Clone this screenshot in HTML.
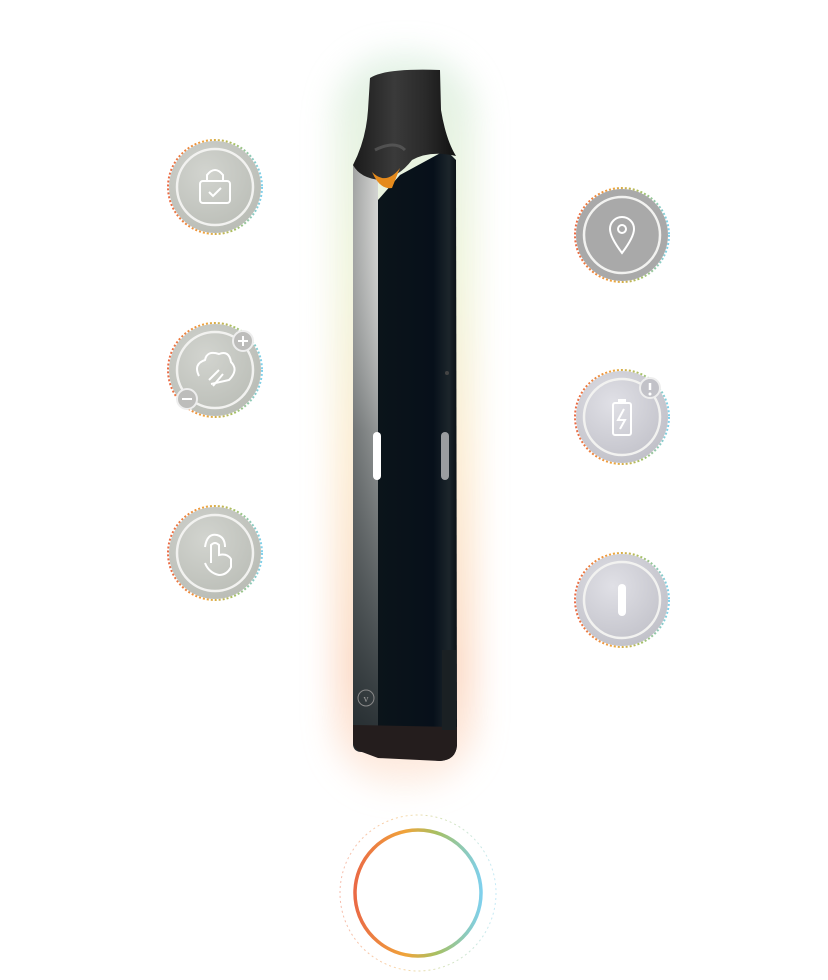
<!DOCTYPE html>
<html><head><meta charset="utf-8"><style>
html,body{margin:0;padding:0;background:#fff;width:828px;height:980px;overflow:hidden}
</style></head><body>
<svg width="828" height="980" viewBox="0 0 828 980" xmlns="http://www.w3.org/2000/svg">
<defs>
<linearGradient id="glow" x1="0" y1="0" x2="0" y2="1">
<stop offset="0" stop-color="#d6ecdc"/><stop offset="0.3" stop-color="#e9f0cc"/>
<stop offset="0.55" stop-color="#fbe4bf"/><stop offset="0.85" stop-color="#fbccb0"/><stop offset="1" stop-color="#fde9dc"/>
</linearGradient>
<filter id="blur" x="-50%" y="-20%" width="200%" height="140%"><feGaussianBlur stdDeviation="16"/></filter>
<linearGradient id="side" x1="0" y1="0" x2="1" y2="0">
<stop offset="0" stop-color="#a0a2a1"/><stop offset="1" stop-color="#d3d4d2"/>
</linearGradient>
<linearGradient id="sideV" x1="0" y1="0" x2="0" y2="1">
<stop offset="0" stop-color="#fff" stop-opacity="0"/><stop offset="0.45" stop-color="#1a2226" stop-opacity="0.35"/><stop offset="1" stop-color="#1a2226" stop-opacity="0.95"/>
</linearGradient>
<linearGradient id="front" x1="0" y1="0" x2="1" y2="0">
<stop offset="0" stop-color="#0b141a"/><stop offset="0.7" stop-color="#07101a"/><stop offset="0.9" stop-color="#1c252b"/><stop offset="1" stop-color="#0a1015"/>
</linearGradient>
<linearGradient id="cap" x1="0" y1="0" x2="1" y2="0">
<stop offset="0" stop-color="#1b1b1b"/><stop offset="0.4" stop-color="#3a3a3a"/><stop offset="0.7" stop-color="#2a2a2a"/><stop offset="1" stop-color="#111"/>
</linearGradient>
<linearGradient id="ring" x1="0" y1="0" x2="1" y2="0">
<stop offset="0" stop-color="#ea6a45"/><stop offset="0.4" stop-color="#f0a43a"/><stop offset="0.65" stop-color="#a6c063"/><stop offset="1" stop-color="#7fd0ec"/>
</linearGradient>
<radialGradient id="disc" cx="0.4" cy="0.35" r="0.8">
<stop offset="0" stop-color="#d2d4cf"/><stop offset="1" stop-color="#b6b9b2"/>
</radialGradient>
<radialGradient id="disc2" cx="0.4" cy="0.35" r="0.8">
<stop offset="0" stop-color="#e0e0e6"/><stop offset="1" stop-color="#bcbcc4"/>
</radialGradient>
<linearGradient id="dotg" x1="0" y1="0" x2="1" y2="0">
<stop offset="0" stop-color="#ea6a45"/><stop offset="0.4" stop-color="#f0a43a"/><stop offset="0.7" stop-color="#a6c063"/><stop offset="1" stop-color="#7fd0ec"/>
</linearGradient>
</defs>

<rect x="335" y="55" width="140" height="730" rx="60" fill="url(#glow)" filter="url(#blur)" opacity="0.7"/>

<path d="M353 165 L353 745 Q354 752 362 752 L378 754 L378 165 Z" fill="url(#side)"/>
<path d="M353 165 L353 745 Q354 752 362 752 L378 754 L378 165 Z" fill="url(#sideV)"/>
<path d="M378 200 L400 175 L446 150 L456 160 L457 745 Q456 760 440 761 L378 754 Z" fill="url(#front)"/>
<path d="M353 725 L457 727 L457 745 Q456 760 440 761 L378 758 L362 752 Q354 750 353 742 Z" fill="#241d1d"/>
<rect x="442" y="650" width="14" height="80" fill="#1a2023"/>
<circle cx="366" cy="698" r="8" fill="none" stroke="#888" stroke-width="1"/>
<text x="366" y="702" font-family="Liberation Serif,serif" font-size="10" fill="#999" text-anchor="middle">v</text>
<path d="M370 78 Q385 68 440 70 L441 110 Q446 140 456 156 Q430 150 412 160 Q398 178 380 180 Q360 178 353 165 Q366 140 368 110 Z" fill="url(#cap)"/>
<path d="M375 150 Q395 140 405 150" stroke="#666" stroke-width="3" fill="none" opacity="0.6"/>
<path d="M372 172 Q386 186 400 168 L392 188 Q380 190 372 172 Z" fill="#e58a1c"/>
<rect x="373" y="432" width="8" height="48" rx="4" fill="#fff"/>
<rect x="441" y="432" width="8" height="48" rx="4" fill="#9a9da0"/>
<circle cx="447" cy="373" r="2" fill="#444"/>

<g font-family="Liberation Sans,sans-serif">
<g transform="translate(215,187)">
<circle r="47" fill="none" stroke="url(#dotg)" stroke-width="2" stroke-dasharray="2 2"/>
<circle r="46" fill="url(#disc)"/><circle r="38" fill="none" stroke="#f2f2f0" stroke-width="2.5"/>
<rect x="-15" y="-6" width="30" height="22" rx="3" fill="none" stroke="#fff" stroke-width="2"/>
<path d="M-8 -6 V-12 Q0 -22 8 -12 V-6" fill="none" stroke="#fff" stroke-width="2"/>
<path d="M-6 5 L-2 9 L6 1" fill="none" stroke="#fff" stroke-width="2"/>
</g>
<g transform="translate(215,370)">
<circle r="47" fill="none" stroke="url(#dotg)" stroke-width="2" stroke-dasharray="2 2"/>
<circle r="46" fill="url(#disc)"/><circle r="38" fill="none" stroke="#f2f2f0" stroke-width="2.5"/>
<path d="M-16 6 Q-22 -6 -10 -10 Q-8 -20 4 -16 Q14 -20 16 -8 Q24 0 14 10 L-4 14" fill="none" stroke="#fff" stroke-width="2"/>
<path d="M-6 10 L4 0 M-2 16 L8 4" stroke="#fff" stroke-width="2"/>
<circle cx="28" cy="-29" r="10" fill="#bdbdbb" stroke="#eee" stroke-width="2"/><path d="M23 -29 H33 M28 -34 V-24" stroke="#fff" stroke-width="2"/>
<circle cx="-28" cy="29" r="10" fill="#bdbdbb" stroke="#eee" stroke-width="2"/><path d="M-33 29 H-23" stroke="#fff" stroke-width="2"/>
</g>
<g transform="translate(215,553)">
<circle r="47" fill="none" stroke="url(#dotg)" stroke-width="2" stroke-dasharray="2 2"/>
<circle r="46" fill="url(#disc)"/><circle r="38" fill="none" stroke="#f2f2f0" stroke-width="2.5"/>
<path d="M-4 10 V-8 Q0 -12 4 -8 V2 Q12 0 16 6 V14 Q12 22 4 22 Q-6 20 -10 10" fill="none" stroke="#fff" stroke-width="2"/>
<path d="M-10 -6 Q-8 -20 2 -18 Q10 -16 10 -6" fill="none" stroke="#fff" stroke-width="2"/>
</g>
<g transform="translate(622,235)">
<circle r="47" fill="none" stroke="url(#dotg)" stroke-width="2" stroke-dasharray="2 2"/>
<circle r="46" fill="#a9a9a9"/><circle r="38" fill="none" stroke="#f2f2f0" stroke-width="2.5"/>
<path d="M0 18 Q-12 2 -12 -6 A12 12 0 0 1 12 -6 Q12 2 0 18 Z" fill="none" stroke="#fff" stroke-width="2"/>
<circle cy="-6" r="4" fill="none" stroke="#fff" stroke-width="2"/>
</g>
<g transform="translate(622,417)">
<circle r="47" fill="none" stroke="url(#dotg)" stroke-width="2" stroke-dasharray="2 2"/>
<circle r="46" fill="url(#disc2)"/><circle r="38" fill="none" stroke="#f2f2f0" stroke-width="2.5"/>
<rect x="-9" y="-14" width="18" height="32" rx="2" fill="none" stroke="#fff" stroke-width="2"/>
<rect x="-4" y="-18" width="8" height="4" fill="#fff"/>
<path d="M2 -8 L-4 3 H3 L-2 12" fill="none" stroke="#fff" stroke-width="2"/>
<circle cx="28" cy="-29" r="10" fill="#c2c2c8" stroke="#eee" stroke-width="2"/><path d="M28 -34 V-27" stroke="#fff" stroke-width="2.5"/><circle cx="28" cy="-23" r="1.5" fill="#fff"/>
</g>
<g transform="translate(622,600)">
<circle r="47" fill="none" stroke="url(#dotg)" stroke-width="2" stroke-dasharray="2 2"/>
<circle r="46" fill="url(#disc2)"/><circle r="38" fill="none" stroke="#f2f2f0" stroke-width="2.5"/>
<rect x="-4" y="-16" width="8" height="32" rx="4" fill="#fff"/>
</g>
</g>

<circle cx="418" cy="893" r="78" fill="none" stroke="url(#ring)" stroke-width="1" stroke-dasharray="2 3" opacity="0.45"/>
<circle cx="418" cy="893" r="63" fill="none" stroke="url(#ring)" stroke-width="3.5"/>
</svg>
</body></html>
